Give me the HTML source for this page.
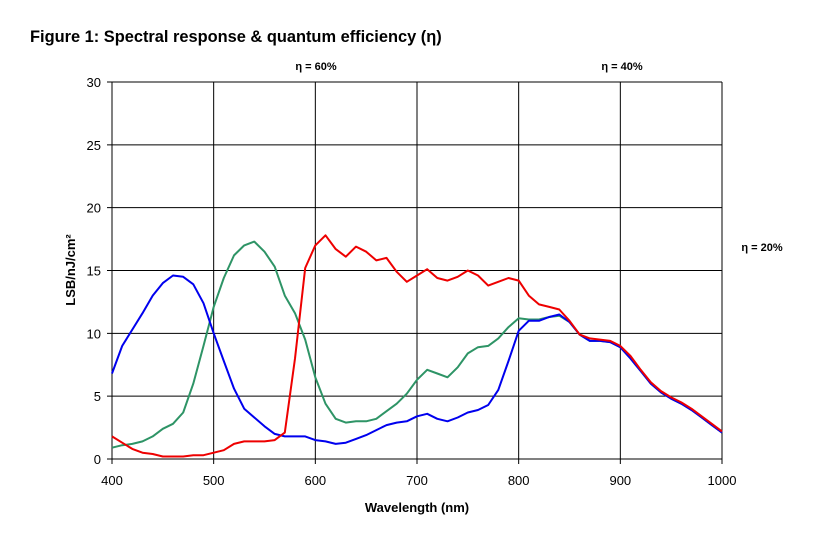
<!DOCTYPE html>
<html><head><meta charset="utf-8"><style>
html,body{margin:0;padding:0;background:#fff;}
svg{display:block;font-family:"Liberation Sans",Arial,sans-serif;}
</style></head><body>
<svg id="s" width="824" height="544" viewBox="0 0 824 544">
<text x="30" y="42" font-size="16.4" font-weight="bold">Figure 1: Spectral response &amp; quantum efficiency (η)</text>
<text x="316" y="70" font-size="11" font-weight="bold" text-anchor="middle">η = 60%</text>
<text x="622" y="70" font-size="11" font-weight="bold" text-anchor="middle">η = 40%</text>
<text x="762" y="251" font-size="11" font-weight="bold" text-anchor="middle">η = 20%</text>
<text x="417" y="512" font-size="13" font-weight="bold" text-anchor="middle">Wavelength (nm)</text>
<text transform="translate(75,270) rotate(-90)" font-size="13" font-weight="bold" text-anchor="middle">LSB/nJ/cm²</text>
<g id="g"></g>
</svg>
<script>
var g=document.getElementById('g'),ns='http://www.w3.org/2000/svg';
function X(w){return 112+(w-400)*610/600}
function Y(v){return 459-v*377/30}
function el(t,a,txt){var e=document.createElementNS(ns,t);for(var k in a)e.setAttribute(k,a[k]);if(txt!=null)e.textContent=txt;g.appendChild(e);return e}
for(var v=0;v<=30;v+=5){el('line',{x1:107,x2:722,y1:Y(v),y2:Y(v),stroke:'#000','stroke-width':1});el('text',{x:101,y:Y(v)+5,'font-size':13,'text-anchor':'end'},v)}
for(var w=400;w<=1000;w+=100){el('line',{x1:X(w),x2:X(w),y1:Y(30),y2:Y(0)+5,stroke:'#000','stroke-width':1});el('text',{x:X(w),y:485,'font-size':13,'text-anchor':'middle'},w)}
var tail=[10.9,9.9,9.4,9.4,9.3,8.9,8.0,7.0,6.0,5.3,4.8,4.4,3.9,3.3,2.7,2.1];
var blue=[6.8,9,10.3,11.6,13,14,14.6,14.5,13.9,12.4,10,7.8,5.6,4,3.3,2.6,2,1.8,1.8,1.8,1.5,1.4,1.2,1.3,1.6,1.9,2.3,2.7,2.9,3.0,3.4,3.6,3.2,3.0,3.3,3.7,3.9,4.3,5.5,7.8,10.2,11,11.0,11.3,11.5].concat(tail);
var green=[0.9,1.1,1.2,1.4,1.8,2.4,2.8,3.7,6,9,12.1,14.4,16.2,17,17.3,16.5,15.3,13,11.6,9.5,6.5,4.4,3.2,2.9,3.0,3.0,3.2,3.8,4.4,5.2,6.3,7.1,6.8,6.5,7.3,8.4,8.9,9.0,9.6,10.5,11.2,11.1,11.1,11.3,11.4].concat(tail);
var red=[1.8,1.3,0.8,0.5,0.4,0.2,0.2,0.2,0.3,0.3,0.5,0.7,1.2,1.4,1.4,1.4,1.5,2.1,8,15.2,17,17.8,16.7,16.1,16.9,16.5,15.8,16,14.9,14.1,14.6,15.1,14.4,14.2,14.5,15,14.6,13.8,14.1,14.4,14.2,13,12.3,12.1,11.9,11,9.9,9.6,9.5,9.4,9.0,8.2,7.1,6.1,5.4,4.9,4.5,4.0,3.4,2.8,2.2];
function pl(d,c){var p=d.map(function(v,i){return X(400+i*10).toFixed(1)+','+Y(v).toFixed(1)}).join(' ');el('polyline',{points:p,fill:'none',stroke:c,'stroke-width':2,'stroke-linejoin':'round'})}
pl(green,'#2e9466');pl(blue,'#0000ee');pl(red,'#ee0000');
</script>
</body></html>
